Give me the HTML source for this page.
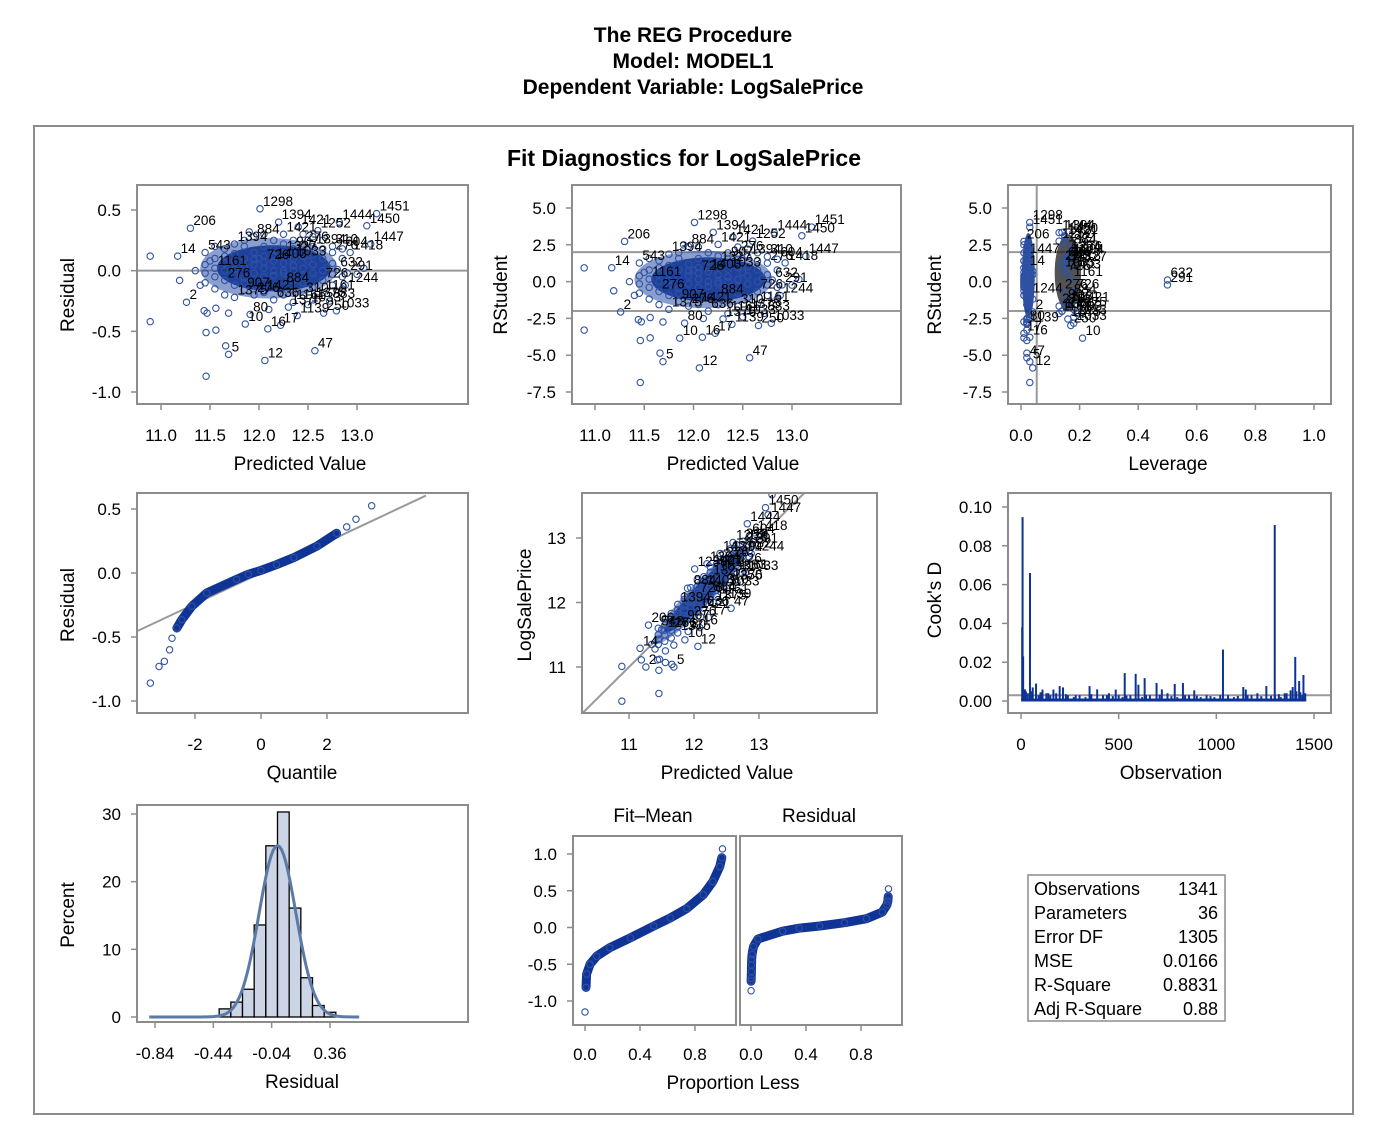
<!DOCTYPE html>
<html><head><meta charset="utf-8"><style>
html,body{margin:0;padding:0;background:#fff;}
svg{display:block;font-family:"Liberation Sans",sans-serif;}
.tk{font-size:17px;fill:#000;}
.at{font-size:19px;fill:#000;}
.fr{fill:none;stroke:#8c8c8c;stroke-width:2;}
</style></head><body>
<svg id="chart" width="1379" height="1125" viewBox="0 0 1379 1125" xmlns="http://www.w3.org/2000/svg">
<rect x="0" y="0" width="1379" height="1125" fill="#fff"/>
<text x="693" y="42" text-anchor="middle" font-size="21" font-weight="bold">The REG Procedure</text>
<text x="693" y="68" text-anchor="middle" font-size="21" font-weight="bold">Model: MODEL1</text>
<text x="693" y="94" text-anchor="middle" font-size="21" font-weight="bold">Dependent Variable: LogSalePrice</text>
<rect x="34" y="126" width="1319" height="988" fill="none" stroke="#8c8c8c" stroke-width="2"/>
<text x="684" y="166" text-anchor="middle" font-size="23" font-weight="bold">Fit Diagnostics for LogSalePrice</text>
<g id="marks"></g>
<g>
<rect x="1028" y="875" width="197" height="146" fill="none" stroke="#8c8c8c" stroke-width="1.5"/>
<g font-size="18">
<text x="1034" y="895">Observations</text><text x="1218" y="895" text-anchor="end">1341</text>
<text x="1034" y="919">Parameters</text><text x="1218" y="919" text-anchor="end">36</text>
<text x="1034" y="943">Error DF</text><text x="1218" y="943" text-anchor="end">1305</text>
<text x="1034" y="967">MSE</text><text x="1218" y="967" text-anchor="end">0.0166</text>
<text x="1034" y="991">R-Square</text><text x="1218" y="991" text-anchor="end">0.8831</text>
<text x="1034" y="1015">Adj R-Square</text><text x="1218" y="1015" text-anchor="end">0.88</text>
</g></g>
</svg>
<script>
// ---------- observation data ----------
const predicted=[
11.45,11.45,11.45,11.45,11.55,11.55,11.55,11.55,
11.55,11.65,11.65,11.65,11.65,11.65,11.65,11.75,
11.75,11.75,11.75,11.75,11.75,11.75,11.85,11.85,
11.85,11.85,11.85,11.85,11.85,11.95,11.95,11.95,
11.95,11.95,11.95,11.95,12.05,12.05,12.05,12.05,
12.05,12.05,12.05,12.05,12.15,12.15,12.15,12.15,
12.15,12.15,12.15,12.15,12.25,12.25,12.25,12.25,
12.25,12.25,12.25,12.25,12.35,12.35,12.35,12.35,
12.35,12.35,12.35,12.35,12.45,12.45,12.45,12.45,
12.45,12.45,12.45,12.55,12.55,12.55,12.55,12.55,
12.55,12.55,12.65,12.65,12.65,12.65,12.65,12.65,
12.75,12.75,12.75,12.75,12.75,12.85,12.85,12.85,
12.85,11.35,11.40,11.50,12.00,12.30,12.50,12.70,
10.89,10.89,11.30,11.17,11.26,11.46,11.56,11.46,
11.69,11.66,12.06,12.09,11.86,12.57,12.22,12.01,
13.14,12.79,13.00,11.19,11.44,11.47,11.56,11.69,
11.91,12.93,13.07,12.82,13.10,12.88,12.66,12.72,
12.39,12.20,12.40,12.60,12.30,12.50,11.90,12.10,
12.80,12.90,13.20];
const residual=[
0.05,-0.10,0.15,-0.02,0.10,-0.15,0.02,0.20,
-0.05,0.12,-0.08,0.00,0.18,-0.20,0.06,0.08,
-0.12,0.22,-0.03,0.14,-0.22,0.01,0.10,-0.06,
0.20,-0.16,0.03,0.25,-0.10,0.05,-0.20,0.15,
-0.02,0.28,-0.12,0.09,-0.05,0.12,-0.18,0.20,
0.02,-0.10,0.30,0.07,0.00,0.18,-0.14,0.08,
-0.24,0.25,-0.04,0.12,0.06,-0.12,0.22,-0.02,
0.14,-0.20,0.30,0.00,-0.08,0.10,0.25,-0.16,
0.04,0.18,-0.26,0.00,0.12,-0.10,0.22,0.02,
-0.20,0.30,-0.04,0.05,-0.14,0.20,-0.02,0.13,
-0.24,0.28,0.10,-0.08,0.18,0.00,-0.18,0.25,
0.06,-0.12,0.15,-0.03,0.20,0.10,-0.05,0.18,
-0.15,0.00,-0.12,0.08,0.10,-0.05,0.08,0.03,
0.12,-0.42,0.35,0.12,-0.26,-0.51,-0.49,-0.87,
-0.69,-0.62,-0.74,-0.48,-0.44,-0.66,-0.45,0.51,
0.22,-0.33,-0.03,-0.08,-0.33,-0.35,-0.31,-0.35,
-0.36,0.15,0.02,0.40,0.37,-0.12,-0.35,-0.25,
-0.37,0.40,0.36,0.33,-0.30,-0.28,0.32,-0.32,
0.01,-0.02,0.47];
const leverage=[
0.02,0.03,0.15,0.01,0.02,0.04,0.17,0.02,
0.03,0.02,0.14,0.01,0.03,0.02,0.04,0.01,
0.02,0.16,0.03,0.02,0.18,0.01,0.02,0.03,
0.02,0.15,0.01,0.03,0.02,0.01,0.13,0.02,
0.02,0.17,0.01,0.04,0.02,0.03,0.19,0.02,
0.01,0.03,0.02,0.15,0.02,0.01,0.03,0.16,
0.14,0.02,0.01,0.03,0.02,0.17,0.03,0.01,
0.18,0.02,0.15,0.03,0.02,0.14,0.01,0.03,
0.02,0.16,0.13,0.01,0.03,0.02,0.19,0.02,
0.15,0.02,0.03,0.01,0.02,0.17,0.03,0.02,
0.14,0.03,0.02,0.18,0.01,0.03,0.16,0.02,
0.02,0.03,0.14,0.01,0.16,0.02,0.03,0.15,
0.02,0.02,0.01,0.03,0.02,0.01,0.02,0.03,
0.01,0.02,0.01,0.02,0.04,0.02,0.01,0.03,
0.03,0.02,0.04,0.03,0.21,0.02,0.01,0.03,
0.02,0.18,0.03,0.01,0.02,0.01,0.03,0.02,
0.02,0.16,0.02,0.13,0.15,0.03,0.17,0.19,
0.02,0.14,0.15,0.13,0.16,0.18,0.01,0.02,
0.50,0.50,0.03];
const labelIndex=[106,107,108,112,114,115,116,117,118,119,120,128,129,131,132,133,134,135,136,144,145,146];
const labelText=["206","14","2","5","12","16","10","47","17","1298","1447","80","1418","1444","1450","1244","250","883","1139","632","291","1451"];
const highLeverageIds=["1375","1033","543","726","1043","907","1161","1403","636","57","276","1084","310","884","192","604","1327","1394","1421","1252"];
const mse=0.0166;
const leverageCutoff=0.0537;
// histogram
const binMidpoints=[-0.36,-0.28,-0.20,-0.12,-0.04,0.04,0.12,0.20,0.28,0.36];
const binPercent=[1.2,2.2,4.1,13.6,25.3,30.3,16.1,5.8,1.7,0.7];
const binWidth=0.08;
const normalMean=0.0, normalSd=0.126;
// residual quantiles (QQ + RF)
const residProb=[0.0004,0.001,0.0017,0.0028,0.0035,0.0054,0.0082,0.018,0.05,0.23,0.35,0.5,0.68,0.84,0.955,0.989,0.9953,0.998,0.9996];
const residQuant=[-0.86,-0.73,-0.69,-0.60,-0.51,-0.43,-0.365,-0.26,-0.156,-0.05,-0.01,0.02,0.065,0.12,0.21,0.31,0.36,0.42,0.525];
const qqSlope=0.121;
// fit-mean quantiles
const fitProb=[0,0.007,0.012,0.036,0.085,0.18,0.33,0.5,0.62,0.74,0.86,0.93,0.98,0.995,1.0];
const fitMean=[-1.15,-0.815,-0.635,-0.5,-0.39,-0.275,-0.14,0.02,0.13,0.257,0.446,0.626,0.83,0.95,1.07];
// Cook's D
const cookObs=[8,6,46,11,1299,1034,1404,1424,1446,531,587,633,601,694,787,829,351,1138,1256,198,77,60,215,721,485,887,1391,1380,1151,110,166,390,
15,25,35,90,130,150,180,240,270,300,330,420,450,520,560,620,660,750,800,860,920,950,990,1060,1090,1180,1210,1300,1330,1350,1410,1440,1455,
20,55,100,140,230,280,360,440,470,500,540,640,710,770,840,900,970,1020,1110,1160,1230,1280,1320,1360,1430];
const cookD=[0.0948,0.038,0.066,0.023,0.0907,0.0265,0.0227,0.0103,0.0134,0.0144,0.014,0.0118,0.0084,0.0093,0.0088,0.0093,0.0077,0.0072,0.0077,0.0077,0.009,0.007,0.007,0.006,0.0059,0.0055,0.0072,0.0055,0.0059,0.0059,0.0059,0.006,
0.004,0.005,0.004,0.003,0.004,0.003,0.004,0.003,0.002,0.003,0.002,0.003,0.004,0.002,0.003,0.002,0.003,0.004,0.002,0.003,0.002,0.003,0.002,0.003,0.002,0.003,0.004,0.003,0.002,0.004,0.005,0.003,0.004,
0.006,0.005,0.0045,0.004,0.0035,0.003,0.0035,0.003,0.0025,0.003,0.0028,0.003,0.0032,0.0025,0.003,0.0028,0.0025,0.003,0.0026,0.003,0.0025,0.0028,0.0035,0.004,0.0045];
const cookCutoff=4/1341;
// tick labels
const p1X=[11.0,11.5,12.0,12.5,13.0], p1Y=[0.5,0.0,-0.5,-1.0];
const rsY=[5.0,2.5,0.0,-2.5,-5.0,-7.5], levX=[0.0,0.2,0.4,0.6,0.8,1.0];
const qqX=[-2,0,2], qqY=[0.5,0.0,-0.5,-1.0];
const p5X=[11,12,13], p5Y=[13,12,11];
const cookX=[0,500,1000,1500], cookY=[0.10,0.08,0.06,0.04,0.02,0.00];
const histX=[-0.84,-0.44,-0.04,0.36], histY=[30,20,10,0];
const rfX=[0.0,0.4,0.8], rfY=[1.0,0.5,0.0,-0.5,-1.0];

// ---------- helpers ----------
const NS="http://www.w3.org/2000/svg";
const root=document.getElementById('marks');
function mk(tag,attrs,parent){const e=document.createElementNS(NS,tag);for(const k in attrs)e.setAttribute(k,attrs[k]);(parent||root).appendChild(e);return e;}
function lin(d0,d1,r0,r1){return v=>r0+(v-d0)*(r1-r0)/(d1-d0);}
function fmt(v,d){return v.toFixed(d);}
function invNorm(p){const a=[-39.69683028665376,220.9460984245205,-275.9285104469687,138.3577518672690,-30.66479806614716,2.506628277459239],b=[-54.47609879822406,161.5858368580409,-155.6989798598866,66.80131188771972,-13.28068155288572],c=[-0.007784894002430293,-0.3223964580411365,-2.400758277161838,-2.549732539343734,4.374664141464968,2.938163982698783],d=[0.007784695709041462,0.3224671290700398,2.445134137142996,3.754408661907416];const pl=0.02425;let q,r;
if(p<pl){q=Math.sqrt(-2*Math.log(p));return (((((c[0]*q+c[1])*q+c[2])*q+c[3])*q+c[4])*q+c[5])/((((d[0]*q+d[1])*q+d[2])*q+d[3])*q+1);}
if(p>1-pl){q=Math.sqrt(-2*Math.log(1-p));return -(((((c[0]*q+c[1])*q+c[2])*q+c[3])*q+c[4])*q+c[5])/((((d[0]*q+d[1])*q+d[2])*q+d[3])*q+1);}
q=p-0.5;r=q*q;return (((((a[0]*r+a[1])*r+a[2])*r+a[3])*r+a[4])*r+a[5])*q/(((((b[0]*r+b[1])*r+b[2])*r+b[3])*r+b[4])*r+1);}
let clipN=0;
function panel(name,x0,y0,x1,y1){
  const g=mk('g',{});
  
  
  const id='clip'+(clipN++);
  const cp=mk('clipPath',{id:id},g);mk('rect',{x:x0,y:y0,width:x1-x0,height:y1-y0},cp);
  const inner=mk('g',{'clip-path':'url(#'+id+')'},g);
  const fr=mk('rect',{x:x0,y:y0,width:x1-x0,height:y1-y0,class:'fr'},g);
  
  
  return {g:g,inner:inner,x0:x0,y0:y0,x1:x1,y1:y1};
}
function xTicks(P,vals,sx,dec,ly){
  vals.forEach(v=>{const x=sx(v);mk('line',{x1:x,x2:x,y1:P.y1,y2:P.y1+6,stroke:'#8c8c8c','stroke-width':1.5},P.g);
  const t=mk('text',{x:x,y:ly,'text-anchor':'middle',class:'tk'},P.g);t.textContent=fmt(v,dec);
  
  });
}
function yTicks(P,vals,sy,dec){
  vals.forEach(v=>{const y=sy(v);mk('line',{x1:P.x0-6,x2:P.x0,y1:y,y2:y,stroke:'#8c8c8c','stroke-width':1.5},P.g);
  const t=mk('text',{x:P.x0-16,y:y+6,'text-anchor':'end',class:'tk'},P.g);t.textContent=fmt(v,dec);
  
  });
}
function axTitle(P,txt,x,y,rot,name){
  const t=mk('text',{x:x,y:y,'text-anchor':'middle',class:'at',transform:rot?('rotate(-90 '+x+' '+y+')'):''},P.g);
  t.textContent=txt;
  
  
}
function refH(P,y){mk('line',{x1:P.x0,x2:P.x1,y1:y,y2:y,stroke:'#999','stroke-width':2},P.inner);}
function refV(P,x){mk('line',{x1:x,x2:x,y1:P.y0,y2:P.y1,stroke:'#999','stroke-width':2},P.inner);}
function dot(P,x,y){const c=mk('circle',{cx:x,cy:y,r:3.2,fill:'none',stroke:'#2f52a3','stroke-width':1.1},P.inner);
  
  return c;}
function blob(P,pts,col,op){mk('polygon',{points:pts.map(p=>p[0].toFixed(1)+','+p[1].toFixed(1)).join(' '),fill:col||'#0f3495','fill-opacity':op||0.88},P.inner);}
function ellipsePts(cx,cy,rx,ry,map){const out=[];for(let k=0;k<48;k++){const t=k/48*2*Math.PI;out.push(map(cx+rx*Math.cos(t),cy+ry*Math.sin(t)));}return out;}
const rootMSE=Math.sqrt(mse);
const rstudent=residual.map((r,i)=>r/(rootMSE*Math.sqrt(1-leverage[i])));
function labelFor(i){const k=labelIndex.indexOf(i);if(k>=0)return labelText[k];if(leverage[i]>leverageCutoff)return highLeverageIds[i%highLeverageIds.length];return null;}
function pointLabels(P,xs,ys){
  for(let i=0;i<xs.length;i++){const s=labelFor(i);if(!s)continue;
    const t=mk('text',{x:xs[i]+3,y:ys[i]-3,'font-size':13.5,fill:'#000'},P.inner);t.textContent=s;
    
    }
}

// ---------- Panel 1 ----------
(function(){
  const P=panel('residual-by-predicted-plot',137,185,468,404);
  const sx=lin(11,13,161,357), sy=lin(-1,0.5,392,210);
  refH(P,sy(0));
  blob(P,ellipsePts(12.1,0.02,0.7,0.25,(a,b)=>[sx(a),sy(b)]),'#3d5fae',0.6);
  blob(P,ellipsePts(12.15,0.02,0.58,0.19,(a,b)=>[sx(a),sy(b)]));
  const xs=predicted.map(sx), ys=residual.map(sy);
  xs.forEach((x,i)=>dot(P,x,ys[i]));
  pointLabels(P,xs,ys);
  xTicks(P,p1X,sx,1,441);yTicks(P,p1Y,sy,1);
  axTitle(P,'Predicted Value',300,470,false,'x-axis-title');
  axTitle(P,'Residual',74,295,true,'y-axis-title');
})();
// ---------- Panel 2 ----------
(function(){
  const P=panel('rstudent-by-predicted-plot',572,185,901,404);
  const sx=lin(11,13,595,792), sy=lin(-7.5,5,392,208);
  refH(P,sy(2));refH(P,sy(-2));
  blob(P,ellipsePts(12.1,0.15,0.7,1.95,(a,b)=>[sx(a),sy(b)]),'#3d5fae',0.6);
  blob(P,ellipsePts(12.15,0.15,0.58,1.5,(a,b)=>[sx(a),sy(b)]));
  const xs=predicted.map(sx), ys=rstudent.map(sy);
  xs.forEach((x,i)=>dot(P,x,ys[i]));
  pointLabels(P,xs,ys);
  xTicks(P,p1X,sx,1,441);yTicks(P,rsY,sy,1);
  axTitle(P,'Predicted Value',733,470,false,'x-axis-title');
  axTitle(P,'RStudent',507,295,true,'y-axis-title');
})();
// ---------- Panel 3 ----------
(function(){
  const P=panel('rstudent-by-leverage-plot',1008,185,1331,404);
  const sx=lin(0,1,1021,1314), sy=lin(-7.5,5,392,208);
  refH(P,sy(2));refH(P,sy(-2));refV(P,sx(leverageCutoff));
  blob(P,ellipsePts(0.025,0.4,0.022,2.9,(a,b)=>[sx(a),sy(b)]));
  blob(P,ellipsePts(0.16,0.6,0.045,2.6,(a,b)=>[sx(a),sy(b)]),'#1a1a1a',0.75);
  const xs=leverage.map(sx), ys=rstudent.map(sy);
  xs.forEach((x,i)=>dot(P,x,ys[i]));
  pointLabels(P,xs,ys);
  xTicks(P,levX,sx,1,441);yTicks(P,rsY,sy,1);
  axTitle(P,'Leverage',1168,470,false,'x-axis-title');
  axTitle(P,'RStudent',941,295,true,'y-axis-title');
})();
// ---------- Panel 4: QQ ----------
(function(){
  const P=panel('residual-qq-plot',137,493,468,713);
  const sx=lin(-2,2,195,327), sy=lin(-1,0.5,701,509);
  mk('line',{x1:sx(-5),y1:sy(-5*qqSlope),x2:sx(5),y2:sy(5*qqSlope),stroke:'#999','stroke-width':2},P.inner);
  const xs=residProb.map(p=>sx(invNorm(p))), ys=residQuant.map(sy);
  const core=[];for(let i=0;i<xs.length;i++){if(residProb[i]>=0.0054&&residProb[i]<=0.989)core.push(xs[i].toFixed(1)+','+ys[i].toFixed(1));}
  const pl=mk('polyline',{points:core.join(' '),fill:'none',stroke:'#0f3495','stroke-width':9,'stroke-linecap':'round','stroke-linejoin':'round'},P.inner);
  
  
  xs.forEach((x,i)=>dot(P,x,ys[i]));
  xTicks(P,qqX,sx,0,750);yTicks(P,qqY,sy,1);
  axTitle(P,'Quantile',302,779,false,'x-axis-title');
  axTitle(P,'Residual',74,605,true,'y-axis-title');
})();
// ---------- Panel 5 ----------
(function(){
  const P=panel('observed-by-predicted-plot',582,493,877,713);
  const sx=lin(11,13,629,759), sy=lin(11,13,667,538);
  mk('line',{x1:sx(9),y1:sy(9),x2:sx(15),y2:sy(15),stroke:'#999','stroke-width':2},P.inner);
  blob(P,ellipsePts(12.1,0.02,0.72,0.26,(a,b)=>[sx(a),sy(a+b)]),'#3d5fae',0.6);
  blob(P,ellipsePts(12.15,0.02,0.6,0.2,(a,b)=>[sx(a),sy(a+b)]));
  const xs=predicted.map(sx), ys=predicted.map((p,i)=>sy(p+residual[i]));
  xs.forEach((x,i)=>dot(P,x,ys[i]));
  pointLabels(P,xs,ys);
  xTicks(P,p5X,sx,0,750);yTicks(P,p5Y,sy,0);
  axTitle(P,'Predicted Value',727,779,false,'x-axis-title');
  axTitle(P,'LogSalePrice',531,605,true,'y-axis-title');
})();
// ---------- Panel 6: Cook's D ----------
(function(){
  const P=panel('cooks-d-plot',1008,493,1331,713);
  const sx=lin(0,1500,1021,1314), sy=lin(0,0.1,701,507);
  refH(P,sy(cookCutoff));
  const base=mk('line',{x1:sx(1),x2:sx(1460),y1:sy(0)-1,y2:sy(0)-1,stroke:'#0d3396','stroke-width':3},P.inner);
  
  
  cookObs.forEach((o,i)=>{const n=mk('line',{x1:sx(o),x2:sx(o),y1:sy(0),y2:sy(cookD[i]),stroke:'#0d3396','stroke-width':2},P.inner);
    
    });
  xTicks(P,cookX,sx,0,750);yTicks(P,cookY,sy,2);
  axTitle(P,'Observation',1171,779,false,'x-axis-title');
  axTitle(P,"Cook's D",941,600,true,'y-axis-title');
})();
// ---------- Panel 7: histogram ----------
(function(){
  const P=panel('residual-histogram',137,805,468,1022);
  const sx=lin(-0.84,0.36,155,330), sy=lin(0,30,1017,814);
  binMidpoints.forEach((m,i)=>{const x0=sx(m-binWidth/2),x1=sx(m+binWidth/2);
    const r=mk('rect',{x:x0,y:sy(binPercent[i]),width:x1-x0,height:sy(0)-sy(binPercent[i]),fill:'#cbd5e6',stroke:'#000','stroke-width':1.3},P.inner);
    
    });
  const pts=[];for(let k=0;k<=100;k++){const v=-0.88+k*(1.44/100);const d=binWidth*100*Math.exp(-0.5*Math.pow((v-normalMean)/normalSd,2))/(normalSd*Math.sqrt(2*Math.PI));pts.push(sx(v).toFixed(1)+','+sy(d).toFixed(1));}
  const c=mk('polyline',{points:pts.join(' '),fill:'none',stroke:'#5c7aa6','stroke-width':3},P.inner);
  
  
  xTicks(P,histX,sx,2,1059);yTicks(P,histY,sy,0);
  axTitle(P,'Residual',302,1088,false,'x-axis-title');
  axTitle(P,'Percent',74,915,true,'y-axis-title');
})();
// ---------- Panel 8: residual-fit spread ----------
(function(){
  const sy=lin(-1,1,1001,854);
  function rf(name,x0,x1,px0,probs,vals,title,tx){
    const P=panel(name,x0,836,x1,1025);
    const sx=lin(0,0.8,px0,px0+110);
    const xs=probs.map(sx), ys=vals.map(sy);
    const pts=xs.map((x,i)=>x.toFixed(1)+','+ys[i].toFixed(1));
    const pl=mk('polyline',{points:pts.slice(1,pts.length-1).join(' '),fill:'none',stroke:'#0f3495','stroke-width':9,'stroke-linecap':'round','stroke-linejoin':'round'},P.inner);
    
    
    xs.forEach((x,i)=>dot(P,x,ys[i]));
    xTicks(P,rfX,sx,1,1060);
    const t=mk('text',{x:tx,y:822,'text-anchor':'middle',class:'at'},P.g);t.textContent=title;
    
    
    return P;
  }
  const A=rf('fit-mean-spread-plot',573,736,585,fitProb,fitMean,'Fit\u2013Mean',653);
  yTicks(A,rfY,sy,1);
  rf('residual-spread-plot',740,902,751,residProb,residQuant,'Residual',819);
  const t=mk('text',{x:733,y:1089,'text-anchor':'middle',class:'at'});t.textContent='Proportion Less';
  
  
})();
</script>
</body></html>
